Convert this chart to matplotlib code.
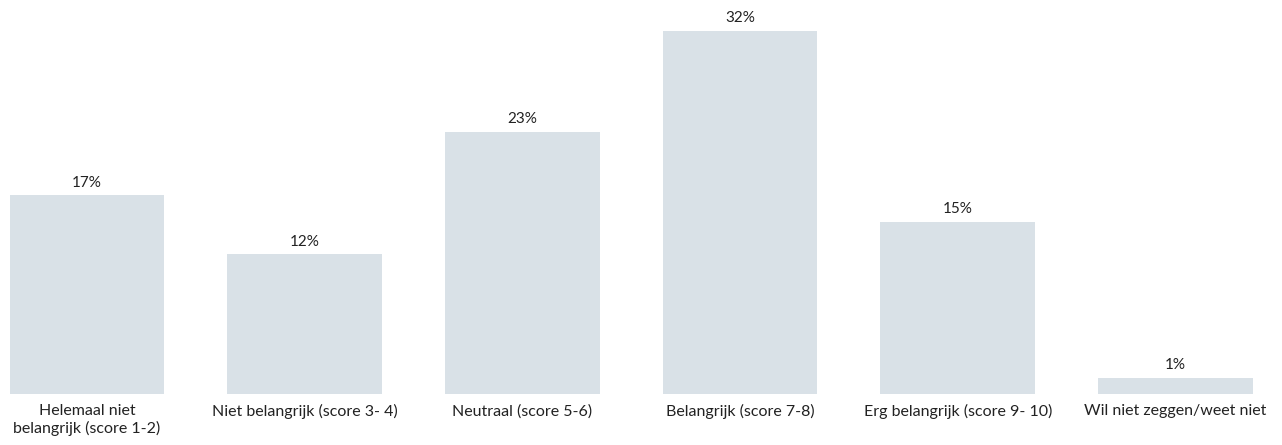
import matplotlib
matplotlib.use("Agg")
import matplotlib.pyplot as plt

categories = ["Helemaal niet\nbelangrijk (score 1-2)",
              "Niet belangrijk (score 3- 4)",
              "Neutraal (score 5-6)",
              "Belangrijk (score 7-8)",
              "Erg belangrijk (score 9- 10)",
              "Wil niet zeggen/weet niet"]
values = [17.5, 12.3, 23.1, 32.0, 15.2, 1.4]
labels = ["17%", "12%", "23%", "32%", "15%", "1%"]

plt.rcParams['font.family'] = ['Lato', 'DejaVu Sans']

fig = plt.figure(figsize=(12.82, 4.45), dpi=100)
ax = fig.add_axes([0, 51 / 445, 1, 394 / 445])

x = list(range(len(values)))
ax.bar(x, values, width=0.71, color="#d9e1e7")

for i, (v, lab) in enumerate(zip(values, labels)):
    ax.text(i, v + 0.5, lab, ha="center", va="bottom", fontsize=11, color="#222222")
    ax.text(i, -0.9, categories[i], ha="center", va="top", fontsize=11.5,
            color="#222222", linespacing=1.25)

ax.set_xlim(-0.4, 5.49)
ax.set_ylim(0, 394 / 363 * 32)
ax.axis("off")

fig.savefig("out.png", dpi=100)
